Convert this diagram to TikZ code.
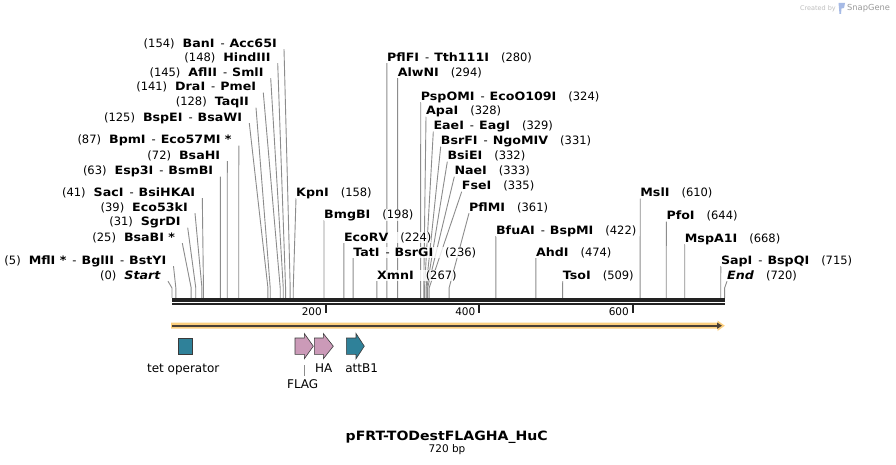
\documentclass[tikz,border=0pt]{standalone}
\usepackage{fontspec}
\setmainfont{DejaVu Sans}[BoldFeatures={FakeStretch=1.1},BoldItalicFeatures={FakeStretch=1.1}]
\usetikzlibrary{arrows.meta}
\definecolor{cutgray}{HTML}{8C8C8C}
\definecolor{bbone}{HTML}{222222}
\definecolor{bandor}{HTML}{FCCF7E}
\definecolor{bandln}{HTML}{4A4036}
\definecolor{featteal}{HTML}{2F8199}
\definecolor{featpink}{HTML}{CB9AB8}
\definecolor{edgegray}{HTML}{3A3A3A}
\pgfdeclarelayer{bg}
\pgfsetlayers{bg,main}
\tikzset{
  cutlab/.style={inner sep=0pt, fill=white, fill opacity=0.8, text opacity=1, font=\fontsize{11.5}{13}\selectfont},
  cutln/.style={draw=cutgray, line width=0.9pt},
  featlab/.style={inner sep=0pt, font=\fontsize{12}{14}\selectfont, anchor=base},
  featbox/.style={fill=#1, draw=edgegray, line width=0.6pt},
  ticklab/.style={inner sep=0pt, font=\fontsize{10.5}{12}\selectfont, anchor=base east},
}
\newcommand\sepd{\hspace{6pt}-\hspace{5pt}}
\newcommand\cutx[1]{172+0.7675*#1}
% left label: name, line-top x, centre y, bp, body
\newcommand\lcut[5]{%
  \node[cutlab, anchor=base east] (#1) at (#2-7,#3+4.2) {(#4)\hspace{8pt}#5};
  \begin{pgfonlayer}{bg}
  \draw[cutln] ([shift={(7,2)}]#1.base east) -- (\cutx{#4},288) -- (\cutx{#4},297.8);
  \end{pgfonlayer}}
% right label: name, line-top x, centre y, bp, body
\newcommand\rcut[5]{%
  \node[cutlab, anchor=base west] (#1) at (#2,#3+4.2) {#5\hspace{12pt}(#4)};
  \begin{pgfonlayer}{bg}
  \draw[cutln] ([shift={(0,2)}]#1.base west) -- (\cutx{#4},288) -- (\cutx{#4},297.8);
  \end{pgfonlayer}}
\newcommand\featarrow[5]{% name, x0, xhead, xtip, colour
  \path[featbox=#5] (#2,338) -- (#3,338) -- (#3,333.5) -- (#4,346.2) -- (#3,358.8) -- (#3,354.3) -- (#2,354.3) -- cycle;
  \coordinate (#1) at ({(#2+#4)/2},346.2);}
\begin{document}
\begin{tikzpicture}[x=1pt,y={(0pt,-1pt)}]
\begin{pgfonlayer}{bg}
\fill[white] (0,0) rectangle (896,465);
\end{pgfonlayer}
\useasboundingbox (0,0) rectangle (896,465);

% watermark
\node[inner sep=0pt, anchor=base east, text=black!25, font=\fontsize{6.5}{8}\selectfont] (wm1) at (836,10.5) {Created by};
\fill[cyan!45!blue!35] (838.5,3) -- (845,3) -- (844,8) -- (841.5,8.5) -- (841,14) -- (839.5,14) -- cycle;
\node[inner sep=0pt, anchor=base west, text=black!40, font=\fontsize{8.3}{10}\selectfont] (wm2) at (847,11) {SnapGene};

% left cut sites
\lcut{L154}{284}{43}{154}{\textbf{BanI}\sepd\textbf{Acc65I}}
\lcut{L148}{277.7}{57}{148}{\textbf{HindIII}}
\lcut{L145}{270.7}{72}{145}{\textbf{AflII}\sepd\textbf{SmlI}}
\lcut{L141}{263.3}{86.5}{141}{\textbf{DraI}\sepd\textbf{PmeI}}
\lcut{L128}{256}{101.5}{128}{\textbf{TaqII}}
\lcut{L125}{249.3}{117}{125}{\textbf{BspEI}\sepd\textbf{BsaWI}}
\lcut{L87}{238.8}{139.5}{87}{\textbf{BpmI}\sepd\textbf{Eco57MI *}}
\lcut{L72}{227.3}{155}{72}{\textbf{BsaHI}}
\lcut{L63}{220.4}{170.5}{63}{\textbf{Esp3I}\sepd\textbf{BsmBI}}
\lcut{L41}{202.3}{192}{41}{\textbf{SacI}\sepd\textbf{BsiHKAI}}
\lcut{L39}{195}{207}{39}{\textbf{Eco53kI}}
\lcut{L31}{187.7}{221.5}{31}{\textbf{SgrDI}}
\lcut{L25}{182.3}{237}{25}{\textbf{BsaBI *}}
\lcut{L5}{173.5}{260}{5}{\textbf{MflI *}\sepd\textbf{BglII}\sepd\textbf{BstYI}}
\lcut{L0}{168}{275}{0}{\textbf{\textit{Start}}}

% right cut sites
\rcut{R158}{296}{192}{158}{\textbf{KpnI}}
\rcut{R198}{324.0}{214}{198}{\textbf{BmgBI}}
\rcut{R224}{343.9}{237}{224}{\textbf{EcoRV}}
\rcut{R236}{353.1}{252}{236}{\textbf{TatI}\sepd\textbf{BsrGI}}
\rcut{R267}{376.9}{275}{267}{\textbf{XmnI}}
\rcut{R280}{386.9}{57}{280}{\textbf{PflFI}\sepd\textbf{Tth111I}}
\rcut{R294}{397.6}{72}{294}{\textbf{AlwNI}}
\rcut{R324}{420.7}{96}{324}{\textbf{PspOMI}\sepd\textbf{EcoO109I}}
\rcut{R328}{426}{110.5}{328}{\textbf{ApaI}}
\rcut{R329}{433.3}{125.5}{329}{\textbf{EaeI}\sepd\textbf{EagI}}
\rcut{R331}{440.7}{140.5}{331}{\textbf{BsrFI}\sepd\textbf{NgoMIV}}
\rcut{R332}{447.3}{155.5}{332}{\textbf{BsiEI}}
\rcut{R333}{454.3}{170.5}{333}{\textbf{NaeI}}
\rcut{R335}{461.7}{185.5}{335}{\textbf{FseI}}
\rcut{R361}{469}{207}{361}{\textbf{PflMI}}
\rcut{R422}{495.9}{230}{422}{\textbf{BfuAI}\sepd\textbf{BspMI}}
\rcut{R474}{535.8}{252}{474}{\textbf{AhdI}}
\rcut{R509}{562.7}{275}{509}{\textbf{TsoI}}
\rcut{R610}{640.2}{192.5}{610}{\textbf{MslI}}
\rcut{R644}{666.3}{215.5}{644}{\textbf{PfoI}}
\rcut{R668}{684.7}{238}{668}{\textbf{MspA1I}}
\rcut{R715}{720.8}{260}{715}{\textbf{SapI}\sepd\textbf{BspQI}}
\rcut{R720}{727}{275}{720}{\textbf{\textit{End}}}

% backbone
\draw[bbone, line width=3.5pt] (172,299.75) -- (724.6,299.75);
\draw[bbone, line width=2.5pt] (172,303.75) -- (724.6,303.75);
% ticks
\foreach \p in {200,400,600}{
  \draw[bbone, line width=2pt] (\cutx{\p},305) -- (\cutx{\p},312.5);
  \node[ticklab] (t\p) at (\cutx{\p}-3.5,315.7) {\p};
}

% feature band
\fill[bandor] (171,322.7) -- (717.5,322.7) -- (717.5,320.5) -- (724.8,325.7) -- (717.5,331) -- (717.5,328.7) -- (171,328.7) -- cycle;
\draw[bandln, line width=1.8pt, -{Triangle[length=5pt,width=6pt]}] (172,325.7) -- (722,325.7);

% features
\node[featbox=featteal, minimum width=14.4pt, minimum height=15.7pt, inner sep=0pt] (tet) at (185.5,346.2) {};
\featarrow{flag}{295}{304.3}{313.3}{featpink}
\featarrow{ha}{314.3}{323.3}{333.3}{featpink}
\featarrow{attb}{346.3}{356}{364.3}{featteal}

\node[featlab] (tetl) at (183.2,372) {tet operator};
\node[featlab] (hal) at (323.7,372) {HA};
\node[featlab] (attl) at (361.7,372) {attB1};
\node[featlab] (flagl) at (302.7,388) {FLAG};
\coordinate (fl1) at (304.3,365);
\coordinate (fl2) at (304.3,376);
\draw[cutln] (fl1) -- (fl2);

% title
\node[inner sep=0pt, anchor=base, font=\fontsize{12.8}{15}\selectfont\bfseries] (title) at (446.7,440) {pFRT-TODestFLAGHA\_HuC};
\node[inner sep=0pt, anchor=base, font=\fontsize{10.5}{12}\selectfont] (size) at (447,452.5) {720 bp};
\end{tikzpicture}
\end{document}
